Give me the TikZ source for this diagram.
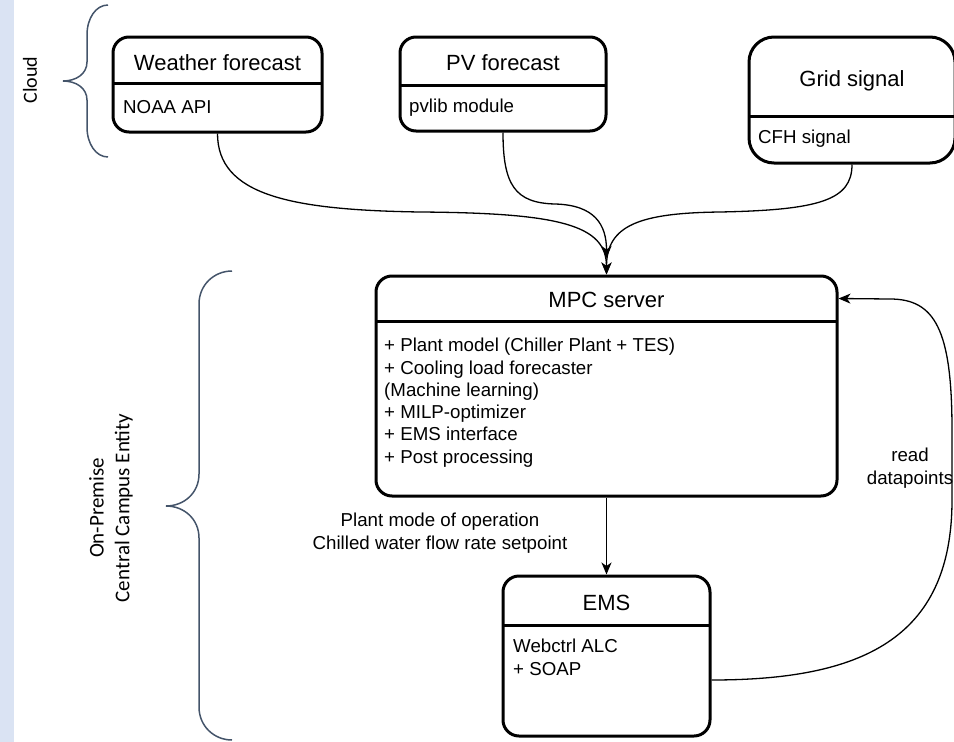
\documentclass[tikz,border=0pt]{standalone}
\usepackage{fontspec}
\setmainfont{Liberation Sans}
\newfontfamily\calibri{Carlito}
\usetikzlibrary{arrows.meta}
\definecolor{stripblue}{HTML}{DAE3F3}
\definecolor{bracecol}{HTML}{44546A}
\newcommand\bodyfont{\fontsize{18.7}{22.3}\selectfont}
\newcommand\titlefont{\fontsize{22}{26}\selectfont}

\begin{document}
\begin{tikzpicture}[x=1pt,y=-1pt,
  box/.style={draw, line width=3pt, fill=white, inner sep=0pt},
  divider/.style={line width=3pt},
  title/.style={font=\titlefont, anchor=base, inner sep=0pt},
  body/.style={font=\bodyfont, align=left, anchor=north west, inner sep=0pt},
  flow/.style={line width=1.3pt, -{Stealth[length=12pt,width=10pt,inset=3.5pt]}},
  brace/.style={draw=bracecol, line width=1.5pt},
  side/.style={font=\calibri\fontsize{21}{25.6}\selectfont, rotate=90, align=center, inner sep=0pt}
]
\useasboundingbox (0,0) rectangle (954,742);
\fill[stripblue] (0,0) rectangle (14,742);

% group braces and their labels
\draw[brace] (108,5) .. controls (96,5) and (87,18) .. (87,35) -- (87,62)
  .. controls (87,74) and (76,81) .. (63,81)
  .. controls (76,81) and (87,88) .. (87,100) -- (87,127)
  .. controls (87,144) and (96,157) .. (108,157);
\node[side, font=\calibri\fontsize{20}{24}\selectfont] (cloudlbl) at (30,80) {Cloud};

\draw[brace] (232,271) .. controls (214,271) and (199,285) .. (199,304) -- (199,474)
  .. controls (199,493) and (184,506) .. (166,506)
  .. controls (184,506) and (199,519) .. (199,538) -- (199,707)
  .. controls (199,726) and (214,740) .. (232,740);
\node[side] (premlbl) at (111,508) {On-Premise\\Central Campus Entity};

% Weather forecast
\node[box, rounded corners=16pt, minimum width=209pt, minimum height=95pt] (wf) at (217.5,84.5) {};
\draw[divider] (113,83) -- (322,83);
\node[title] (wft) at (217.5,70) {Weather forecast};
\node[body] (wfb) at (123,97.9) {\strut NOAA API};

% PV forecast
\node[box, rounded corners=16pt, minimum width=206pt, minimum height=94pt] (pv) at (503,84) {};
\draw[divider] (400,85) -- (606,85);
\node[title] (pvt) at (503,70) {PV forecast};
\node[body] (pvb) at (409,96.9) {\strut pvlib module};

% Grid signal
\node[box, rounded corners=25pt, minimum width=206pt, minimum height=126pt] (gs) at (852,100) {};
\draw[divider] (749,116) -- (955,116);
\node[title] (gst) at (852,86) {Grid signal};
\node[body] (gsb) at (758,127.9) {\strut CFH signal};

% MPC server
\node[box, rounded corners=16pt, minimum width=461pt, minimum height=220pt] (mpc) at (606.5,386) {};
\draw[divider] (376,321) -- (837,321);
\node[title] (mpct) at (606.5,307) {MPC server};
\node[body] (mpcb) at (384,335.9) {\strut + Plant model (Chiller Plant + TES)\\+ Cooling load forecaster\\(Machine learning)\\+ MILP-optimizer\\+ EMS interface\\+ Post processing};

% EMS
\node[box, rounded corners=16pt, minimum width=207pt, minimum height=160pt] (ems) at (606.5,656) {};
\draw[divider] (503,625) -- (710,625);
\node[title] (emst) at (606.5,610) {EMS};
\node[body] (emsb) at (513,636.9) {\strut Webctrl ALC\\+ SOAP};

% connectors
\coordinate (pvend) at (606.5,258);
\draw[flow] (wf.south) .. controls (217.5,195) and (290,210) .. (420,212)
  .. controls (560,213) and (606.5,225) .. (mpc.north);
\draw[flow] (pv.south) .. controls (503,185) and (515,203) .. (555,204)
  .. controls (595,205) and (606.5,225) .. (pvend);
\draw[flow] (gs.south) .. controls (852,200) and (820,210) .. (720,212)
  .. controls (640,213) and (606.5,225) .. (mpc.north);
\draw[flow] (mpc.south) -- (ems.north);
\draw[flow] ([yshift=-24pt]ems.east) .. controls (860,680) and (952,640) .. (952,500)
  -- (952,430) .. controls (952,330) and (935,299) .. (890,299)
  -- ([yshift=87.5pt]mpc.east);

% connector labels
\node[body, align=center, anchor=north] (cmdlbl) at (440,510.9) {\strut Plant mode of operation\\Chilled water flow rate setpoint};
\node[body, align=center, anchor=north] (readlbl) at (910,445.9) {\strut read\\datapoints};
\end{tikzpicture}
\end{document}
